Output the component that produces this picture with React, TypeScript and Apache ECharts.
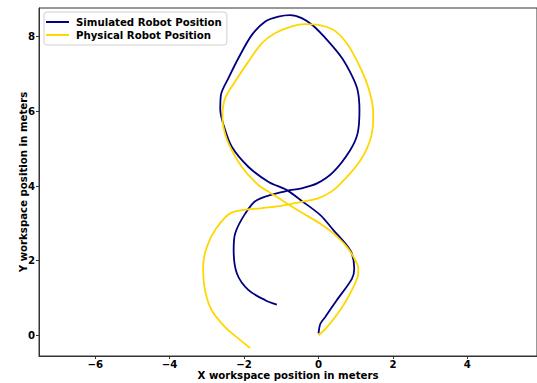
import React, { useEffect, useRef } from "react";
import * as echarts from "echarts";

const seriesNames = ["Simulated Robot Position", "Physical Robot Position"];
const seriesColors = ["#000080", "#FFD700"];

const simulatedX = [0.0, 0.05, 0.18, 0.49, 0.9, 0.96, 0.9, 0.76, 0.4, 0.05, -0.45, -0.85, -1.34, -1.88, -2.33, -2.55, -2.64, -2.62, -2.42, -2.15, -1.79, -1.43, -1.08, -0.76, -0.45, -0.15, 0.27, 0.63, 0.9, 1.05, 1.1, 1.05, 0.85, 0.4, -0.04, -0.49, -0.85, -1.66, -1.97, -2.24, -2.28, -2.19, -1.88, -1.43, -1.12];
const simulatedY = [0.05, 0.31, 0.49, 0.94, 1.52, 1.79, 2.18, 2.41, 2.82, 3.22, 3.6, 3.89, 4.11, 4.51, 5.05, 5.63, 6.05, 6.45, 6.89, 7.43, 8.05, 8.41, 8.54, 8.58, 8.5, 8.3, 7.87, 7.43, 6.95, 6.57, 6.03, 5.41, 4.96, 4.38, 4.07, 3.93, 3.87, 3.62, 3.26, 2.73, 2.28, 1.65, 1.21, 0.94, 0.82];

const physicalX = [0.0, 0.23, 0.58, 0.85, 1.05, 1.07, 0.99, 0.76, 0.4, 0.05, -0.49, -0.88, -1.3, -1.61, -2.06, -2.42, -2.56, -2.58, -2.51, -2.24, -1.88, -1.52, -1.16, -0.72, -0.36, 0.09, 0.45, 0.81, 1.17, 1.35, 1.46, 1.47, 1.42, 1.3, 1.1, 0.85, 0.4, -0.04, -0.49, -1.0, -1.52, -2.35, -2.35, -2.76, -3.0, -3.1, -3.05, -2.87, -2.51, -2.15, -1.84];
const physicalY = [0.0, 0.22, 0.67, 1.12, 1.56, 1.78, 2.01, 2.37, 2.73, 2.99, 3.31, 3.55, 3.82, 4.02, 4.51, 5.14, 5.6, 5.9, 6.35, 6.8, 7.34, 7.83, 8.1, 8.28, 8.34, 8.3, 8.15, 7.75, 7.07, 6.6, 6.1, 5.75, 5.35, 5.0, 4.65, 4.34, 3.89, 3.66, 3.57, 3.47, 3.41, 3.28, 3.28, 2.85, 2.37, 1.83, 1.21, 0.67, 0.22, -0.09, -0.34];

const xTicks = [-6, -4, -2, 0, 2, 4];
const yTicks = [0, 2, 4, 6, 8];
const xTitle = "X workspace position in meters";
const yTitle = "Y workspace position in meters";

const FONT = "DejaVu Sans";
const FS = 10.2;

const zip = (xs: number[], ys: number[]) => xs.map((x, i) => [x, ys[i]]);
const fmt = (v: number) => String(v).replace("-", "\u2212");

export default function App() {
  const ref = useRef<HTMLDivElement>(null);
  useEffect(() => {
    if (!ref.current) return;
    const chart = echarts.init(ref.current, undefined, { renderer: "svg" });
    const textStyle = { fontFamily: FONT, fontWeight: "bold", fontSize: FS, color: "#000" };
    chart.setOption({
      animation: false,
      backgroundColor: "#ffffff",
      grid: {
        left: 39,
        top: 8,
        width: 498,
        height: 348,
        show: true,
        borderColor: "#333",
        borderWidth: 1,
        backgroundColor: "transparent",
        containLabel: false,
        outerBoundsMode: "none",
      },
      legend: {
        orient: "vertical",
        left: 44,
        top: 12,
        padding: [5, 5, 5, 2],
        itemGap: 3,
        itemWidth: 23,
        itemHeight: 2,
        icon: "rect",
        borderColor: "#d0d0d0",
        borderWidth: 1,
        borderRadius: 3,
        backgroundColor: "rgba(255,255,255,0.8)",
        textStyle: { ...textStyle, padding: [0, 0, 0, 2] },
        data: seriesNames,
      },
      xAxis: {
        type: "value",
        min: -7.51,
        max: 5.87,
        name: xTitle,
        nameLocation: "middle",
        nameGap: 14,
        nameMoveOverlap: false,
        nameTextStyle: textStyle,
        axisLine: { show: true, onZero: false, lineStyle: { color: "#333" } },
        axisTick: { show: true, length: 3, customValues: xTicks, lineStyle: { color: "#333" } },
        axisLabel: {
          customValues: xTicks,
          formatter: (v: number) => fmt(v),
          ...textStyle,
          margin: 3,
        },
        splitLine: { show: false },
      },
      yAxis: {
        type: "value",
        min: -0.555,
        max: 8.77,
        name: yTitle,
        nameLocation: "middle",
        nameRotate: 90,
        nameGap: 11,
        nameMoveOverlap: false,
        nameTextStyle: textStyle,
        axisLine: { show: true, onZero: false, lineStyle: { color: "#333" } },
        axisTick: { show: true, length: 3, customValues: yTicks, lineStyle: { color: "#333" } },
        axisLabel: {
          customValues: yTicks,
          formatter: (v: number) => fmt(v),
          ...textStyle,
          margin: 4,
        },
        splitLine: { show: false },
      },
      series: [
        {
          name: seriesNames[0],
          type: "line",
          data: zip(simulatedX, simulatedY),
          showSymbol: false,
          symbol: "none",
          smooth: 0.3,
          color: seriesColors[0],
          lineStyle: { width: 1.8, color: seriesColors[0] },
        },
        {
          name: seriesNames[1],
          type: "line",
          data: zip(physicalX, physicalY),
          showSymbol: false,
          symbol: "none",
          smooth: 0.3,
          color: seriesColors[1],
          lineStyle: { width: 1.8, color: seriesColors[1] },
        },
      ],
    });
    return () => chart.dispose();
  }, []);
  return (
    <div
      ref={ref}
      style={{ position: "fixed", left: 0, top: 0, width: 537, height: 383, background: "#fff" }}
    />
  );
}
